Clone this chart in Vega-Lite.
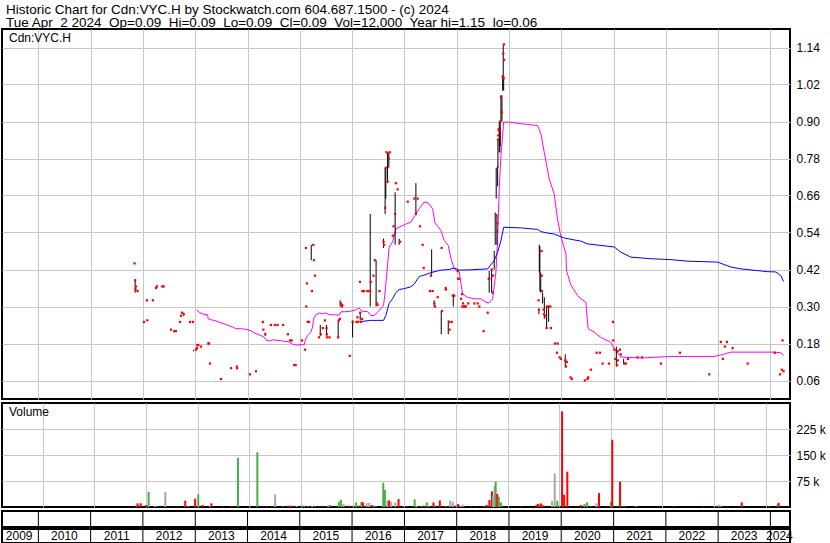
{
"$schema": "https://vega.github.io/schema/vega-lite/v6.json",
"background": "white",
"padding": {"left": 1, "top": 3, "right": 0, "bottom": 0},
"title": {"text": ["Historic Chart for Cdn:VYC.H by Stockwatch.com 604.687.1500 - (c) 2024", "Tue Apr\u00a0 2 2024\u00a0 Op=0.09\u00a0 Hi=0.09\u00a0 Lo=0.09\u00a0 Cl=0.09\u00a0 Vol=12,000\u00a0 Year hi=1.15\u00a0 lo=0.06"], "anchor": "start", "frame": "group", "fontSize": 13.5, "fontWeight": "normal", "font": "Liberation Sans", "color": "black", "lineHeight": 13.3, "offset": -2, "dx": 4},
"config": {
  "font": "Liberation Sans",
  "view": {"stroke": "black", "strokeWidth": 2},
  "axis": {"labelFont": "Liberation Sans", "labelFontSize": 12, "labelColor": "black", "gridColor": "#c8c8c8", "gridOpacity": 1, "gridWidth": 1, "ticks": false, "domain": false, "title": null, "labelOverlap": false},
  "axisX": {"minExtent": 0, "maxExtent": 0},
  "title": {"font": "Liberation Sans", "fontSize": 12, "fontWeight": "normal", "color": "black"}
},
"spacing": 2,
"resolve": {"scale": {"color": "independent", "x": "independent", "y": "independent"}},
"datasets": {
"price": [
{"d":"2011-11-04","c":0.44},
{"d":"2011-11-08","c":0.385,"h":0.385,"l":0.345},
{"d":"2011-11-11","c":0.355},
{"d":"2011-11-14","c":0.365},
{"d":"2011-11-25","c":0.35},
{"d":"2012-01-08","c":0.25},
{"d":"2012-01-29","c":0.32},
{"d":"2012-02-01","c":0.255},
{"d":"2012-03-11","c":0.32},
{"d":"2012-04-01","c":0.36},
{"d":"2012-04-08","c":0.365},
{"d":"2012-05-15","c":0.365},
{"d":"2012-05-25","c":0.365},
{"d":"2012-07-15","c":0.225},
{"d":"2012-08-07","c":0.22},
{"d":"2012-08-19","c":0.22},
{"d":"2012-09-16","c":0.25},
{"d":"2012-09-23","c":0.27},
{"d":"2012-09-30","c":0.28},
{"d":"2012-10-12","c":0.275,"h":0.28,"l":0.27},
{"d":"2012-11-25","c":0.25},
{"d":"2012-12-16","c":0.25},
{"d":"2012-12-21","h":0.16,"l":0.155},
{"d":"2013-01-06","c":0.16},
{"d":"2013-01-13","c":0.165},
{"d":"2013-01-15","c":0.175},
{"d":"2013-01-22","c":0.175},
{"d":"2013-02-10","c":0.17},
{"d":"2013-04-02","c":0.18},
{"d":"2013-04-07","c":0.18},
{"d":"2013-04-14","c":0.115},
{"d":"2013-06-30","c":0.065},
{"d":"2013-09-08","c":0.1},
{"d":"2013-10-18","c":0.105},
{"d":"2013-10-20","c":0.1},
{"d":"2014-01-18","c":0.08},
{"d":"2014-03-01","c":0.09},
{"d":"2014-04-18","c":0.25},
{"d":"2014-04-22","c":0.225},
{"d":"2014-05-05","c":0.21,"h":0.215,"l":0.205},
{"d":"2014-06-13","c":0.24},
{"d":"2014-07-11","c":0.24},
{"d":"2014-07-30","c":0.24},
{"d":"2014-09-07","c":0.24},
{"d":"2014-10-10","c":0.21},
{"d":"2014-10-26","c":0.19},
{"d":"2014-11-05","c":0.19},
{"d":"2014-11-23","c":0.11},
{"d":"2014-12-03","c":0.11},
{"d":"2015-01-16","c":0.19},
{"d":"2015-02-06","c":0.16},
{"d":"2015-02-13","c":0.49},
{"d":"2015-02-15","c":0.3},
{"d":"2015-02-20","c":0.375},
{"d":"2015-02-25","c":0.25},
{"d":"2015-03-06","c":0.25},
{"d":"2015-03-22","h":0.5,"l":0.45},
{"d":"2015-03-27","c":0.35},
{"d":"2015-04-05","c":0.5},
{"d":"2015-04-10","c":0.45},
{"d":"2015-04-17","c":0.4},
{"d":"2015-05-15","c":0.2},
{"d":"2015-05-24","h":0.24,"l":0.205},
{"d":"2015-05-28","c":0.21},
{"d":"2015-06-11","c":0.23},
{"d":"2015-06-25","c":0.255},
{"d":"2015-07-07","c":0.23,"h":0.24,"l":0.205},
{"d":"2015-07-09","c":0.21},
{"d":"2015-07-11","c":0.2},
{"d":"2015-07-28","c":0.2},
{"d":"2015-09-26","c":0.2,"h":0.255,"l":0.2},
{"d":"2015-10-01","c":0.255},
{"d":"2015-10-08","c":0.26},
{"d":"2015-10-10","h":0.32,"l":0.3},
{"d":"2015-10-15","c":0.31},
{"d":"2015-10-22","c":0.3},
{"d":"2015-10-25","c":0.305},
{"d":"2015-12-16","c":0.14},
{"d":"2016-01-05","c":0.25,"h":0.255,"l":0.2},
{"d":"2016-02-01","c":0.25},
{"d":"2016-02-08","c":0.265},
{"d":"2016-02-13","c":0.25},
{"d":"2016-02-25","c":0.38},
{"d":"2016-02-27","c":0.28,"h":0.28,"l":0.255},
{"d":"2016-03-03","c":0.25},
{"d":"2016-03-12","c":0.26},
{"d":"2016-03-14","c":0.35},
{"d":"2016-03-17","c":0.35},
{"d":"2016-03-24","c":0.35},
{"d":"2016-04-18","c":0.35},
{"d":"2016-04-20","c":0.35},
{"d":"2016-05-07","c":0.35,"h":0.6,"l":0.3},
{"d":"2016-05-11","c":0.38},
{"d":"2016-05-30","c":0.4},
{"d":"2016-06-08","c":0.45},
{"d":"2016-06-17","h":0.45,"l":0.3},
{"d":"2016-06-22","c":0.31},
{"d":"2016-06-27","c":0.305},
{"d":"2016-07-11","c":0.35},
{"d":"2016-08-08","c":0.51,"h":0.52,"l":0.49},
{"d":"2016-08-12","c":0.5},
{"d":"2016-08-19","c":0.62,"h":0.75,"l":0.6},
{"d":"2016-08-24","c":0.75,"h":0.75,"l":0.65},
{"d":"2016-08-29","c":0.8},
{"d":"2016-09-05","c":0.705,"h":0.8,"l":0.7},
{"d":"2016-09-14","c":0.78,"h":0.8,"l":0.75},
{"d":"2016-09-21","c":0.8},
{"d":"2016-10-12","c":0.53},
{"d":"2016-10-17","c":0.56},
{"d":"2016-10-28","c":0.6,"h":0.67,"l":0.5},
{"d":"2016-11-02","c":0.7},
{"d":"2016-11-14","c":0.68},
{"d":"2016-11-25","h":0.52,"l":0.5},
{"d":"2016-12-02","c":0.51},
{"d":"2017-01-24","c":0.64},
{"d":"2017-03-11","c":0.65},
{"d":"2017-03-22","c":0.6,"h":0.7,"l":0.6},
{"d":"2017-04-03","c":0.65},
{"d":"2017-04-19","c":0.56},
{"d":"2017-05-08","c":0.5},
{"d":"2017-05-15","c":0.425},
{"d":"2017-06-28","c":0.35},
{"d":"2017-07-05","c":0.4},
{"d":"2017-07-10","h":0.485,"l":0.4},
{"d":"2017-07-17","c":0.35},
{"d":"2017-07-28","c":0.31,"h":0.32,"l":0.3},
{"d":"2017-08-02","c":0.3},
{"d":"2017-08-21","c":0.33},
{"d":"2017-09-15","h":0.285,"l":0.21},
{"d":"2017-09-18","c":0.49},
{"d":"2017-09-20","c":0.285},
{"d":"2017-10-16","c":0.36},
{"d":"2017-10-18","c":0.355},
{"d":"2017-11-03","h":0.255,"l":0.21},
{"d":"2017-11-10","c":0.25},
{"d":"2017-11-12","c":0.225},
{"d":"2017-11-27","c":0.25},
{"d":"2017-12-04","c":0.335},
{"d":"2017-12-08","h":0.34,"l":0.3},
{"d":"2017-12-15","c":0.335},
{"d":"2018-01-08","c":0.415},
{"d":"2018-01-12","c":0.39},
{"d":"2018-01-15","c":0.39},
{"d":"2018-01-31","c":0.325},
{"d":"2018-02-07","c":0.34},
{"d":"2018-02-09","c":0.3},
{"d":"2018-02-14","c":0.31},
{"d":"2018-02-22","c":0.3},
{"d":"2018-02-25","c":0.3},
{"d":"2018-03-06","c":0.3},
{"d":"2018-03-23","c":0.31},
{"d":"2018-05-04","c":0.31},
{"d":"2018-05-28","c":0.31},
{"d":"2018-06-08","c":0.3},
{"d":"2018-07-08","c":0.22},
{"d":"2018-08-05","c":0.28},
{"d":"2018-08-13","c":0.39},
{"d":"2018-08-16","c":0.39,"h":0.415,"l":0.345},
{"d":"2018-09-02","c":0.42,"h":0.42,"l":0.345},
{"d":"2018-09-09","c":0.345},
{"d":"2018-09-11","c":0.4},
{"d":"2018-09-20","h":0.48,"l":0.42},
{"d":"2018-09-27","h":0.605,"l":0.5},
{"d":"2018-10-02","c":0.595},
{"d":"2018-10-04","h":0.75,"l":0.65},
{"d":"2018-10-09","c":0.545,"h":0.6,"l":0.5},
{"d":"2018-10-12","c":0.57},
{"d":"2018-10-14","h":0.755,"l":0.69},
{"d":"2018-10-16","c":0.84,"h":0.845,"l":0.75},
{"d":"2018-10-18","c":0.855},
{"d":"2018-10-21","c":0.875},
{"d":"2018-10-23","c":0.87},
{"d":"2018-10-25","h":0.9,"l":0.8},
{"d":"2018-10-29","h":0.88,"l":0.8},
{"d":"2018-11-01","c":0.9,"h":0.9,"l":0.82},
{"d":"2018-11-06","c":0.98,"h":0.985,"l":0.9},
{"d":"2018-11-13","c":0.93,"h":0.985,"l":0.9},
{"d":"2018-11-18","c":1.045,"h":1.05,"l":1.0},
{"d":"2018-11-22","c":1.12,"h":1.15,"l":1.05},
{"d":"2018-11-25","c":1.04,"h":1.05,"l":1.0},
{"d":"2018-11-27","c":1.15},
{"d":"2018-11-28","c":1.1},
{"d":"2019-07-27","c":0.32},
{"d":"2019-07-29","c":0.29,"h":0.29,"l":0.275},
{"d":"2019-08-01","h":0.5,"l":0.41},
{"d":"2019-08-05","h":0.495,"l":0.35},
{"d":"2019-08-11","h":0.41,"l":0.345},
{"d":"2019-08-17","c":0.48},
{"d":"2019-08-18","c":0.4},
{"d":"2019-08-20","c":0.35},
{"d":"2019-08-24","h":0.345,"l":0.31},
{"d":"2019-08-31","c":0.29},
{"d":"2019-09-02","c":0.275},
{"d":"2019-09-05","h":0.33,"l":0.26},
{"d":"2019-09-12","c":0.27},
{"d":"2019-09-21","c":0.23,"h":0.3,"l":0.23},
{"d":"2019-09-23","c":0.3},
{"d":"2019-10-05","c":0.3,"h":0.3,"l":0.25},
{"d":"2019-10-17","c":0.3},
{"d":"2019-10-21","c":0.23},
{"d":"2019-11-18","c":0.18},
{"d":"2019-12-02","c":0.15},
{"d":"2019-12-07","c":0.18},
{"d":"2019-12-21","c":0.135},
{"d":"2019-12-30","c":0.13},
{"d":"2020-01-29","c":0.125,"h":0.145,"l":0.105},
{"d":"2020-02-03","c":0.105},
{"d":"2020-02-09","c":0.12},
{"d":"2020-03-06","c":0.07},
{"d":"2020-03-15","c":0.065},
{"d":"2020-06-14","c":0.06},
{"d":"2020-07-03","c":0.065},
{"d":"2020-07-07","c":0.07},
{"d":"2020-07-26","c":0.095},
{"d":"2020-09-04","c":0.15},
{"d":"2020-09-27","c":0.15},
{"d":"2020-10-16","c":0.115},
{"d":"2020-11-29","c":0.115},
{"d":"2020-12-27","c":0.25},
{"d":"2020-12-29","c":0.19},
{"d":"2021-01-06","c":0.16},
{"d":"2021-01-13","c":0.13},
{"d":"2021-01-20","h":0.17,"l":0.105},
{"d":"2021-01-25","c":0.11},
{"d":"2021-01-29","c":0.155},
{"d":"2021-01-30","c":0.125},
{"d":"2021-02-14","c":0.16},
{"d":"2021-02-21","c":0.145},
{"d":"2021-03-12","h":0.13,"l":0.115},
{"d":"2021-03-16","c":0.115},
{"d":"2021-03-28","c":0.115},
{"d":"2021-04-11","c":0.13},
{"d":"2021-06-18","c":0.135},
{"d":"2021-07-18","c":0.135},
{"d":"2021-11-28","c":0.115},
{"d":"2022-04-09","c":0.15},
{"d":"2022-10-31","c":0.08},
{"d":"2023-01-20","c":0.185},
{"d":"2023-02-03","c":0.13},
{"d":"2023-02-17","c":0.17},
{"d":"2023-03-03","c":0.185},
{"d":"2023-04-12","c":0.165},
{"d":"2023-07-26","c":0.115},
{"d":"2024-02-01","c":0.15},
{"d":"2024-03-09","c":0.08},
{"d":"2024-03-21","c":0.095},
{"d":"2024-03-26","c":0.19},
{"d":"2024-04-02","c":0.09}
],
"ma": [
{"d":"2013-01-13","s":"m","v":0.29},{"d":"2013-01-31","s":"m","v":0.28},{"d":"2013-02-28","s":"m","v":0.275},{"d":"2013-03-28","s":"m","v":0.273},{"d":"2013-04-01","s":"m","v":0.26},{"d":"2013-04-20","s":"m","v":0.257},{"d":"2013-05-20","s":"m","v":0.254},{"d":"2013-06-17","s":"m","v":0.249},{"d":"2013-07-10","s":"m","v":0.246},{"d":"2013-08-03","s":"m","v":0.242},{"d":"2013-08-26","s":"m","v":0.237},{"d":"2013-09-18","s":"m","v":0.234},{"d":"2013-10-11","s":"m","v":0.228},{"d":"2013-11-15","s":"m","v":0.228},{"d":"2013-12-22","s":"m","v":0.226},{"d":"2014-01-25","s":"m","v":0.221},{"d":"2014-03-01","s":"m","v":0.212},{"d":"2014-04-05","s":"m","v":0.206},{"d":"2014-04-28","s":"m","v":0.2},{"d":"2014-05-09","s":"m","v":0.192},{"d":"2014-06-01","s":"m","v":0.188},{"d":"2014-06-29","s":"m","v":0.192},{"d":"2014-09-03","s":"m","v":0.188},{"d":"2014-10-19","s":"m","v":0.185},{"d":"2014-11-12","s":"m","v":0.178},{"d":"2014-12-05","s":"m","v":0.175},{"d":"2015-01-09","s":"m","v":0.176},{"d":"2015-02-01","s":"m","v":0.176},{"d":"2015-02-08","s":"m","v":0.19},{"d":"2015-02-24","s":"m","v":0.206},{"d":"2015-03-19","s":"m","v":0.217},{"d":"2015-03-31","s":"m","v":0.233},{"d":"2015-04-07","s":"m","v":0.26},{"d":"2015-04-23","s":"m","v":0.273},{"d":"2015-05-16","s":"m","v":0.279},{"d":"2015-06-09","s":"m","v":0.276},{"d":"2015-07-02","s":"m","v":0.279},{"d":"2015-07-25","s":"m","v":0.274},{"d":"2015-08-29","s":"m","v":0.273},{"d":"2015-10-03","s":"m","v":0.272},{"d":"2015-10-15","s":"m","v":0.283},{"d":"2015-11-19","s":"m","v":0.283},{"d":"2015-12-24","s":"m","v":0.285},{"d":"2016-01-28","s":"m","v":0.289},{"d":"2016-02-20","s":"m","v":0.295},{"d":"2016-03-14","s":"m","v":0.284},{"d":"2016-04-18","s":"m","v":0.284},{"d":"2016-05-11","s":"m","v":0.271},{"d":"2016-06-04","s":"m","v":0.271},{"d":"2016-07-08","s":"m","v":0.287},{"d":"2016-08-08","s":"m","v":0.303},{"d":"2016-08-19","s":"m","v":0.347},{"d":"2016-09-05","s":"m","v":0.433},{"d":"2016-09-16","s":"m","v":0.493},{"d":"2016-10-10","s":"m","v":0.509},{"d":"2016-11-02","s":"m","v":0.552},{"d":"2016-12-31","s":"m","v":0.565},{"d":"2017-02-15","s":"m","v":0.574},{"d":"2017-03-15","s":"m","v":0.595},{"d":"2017-04-14","s":"m","v":0.617},{"d":"2017-05-19","s":"m","v":0.639},{"d":"2017-06-16","s":"m","v":0.636},{"d":"2017-07-17","s":"m","v":0.617},{"d":"2017-08-02","s":"m","v":0.571},{"d":"2017-09-13","s":"m","v":0.547},{"d":"2017-10-06","s":"m","v":0.514},{"d":"2017-11-03","s":"m","v":0.498},{"d":"2017-11-22","s":"m","v":0.455},{"d":"2017-12-15","s":"m","v":0.422},{"d":"2018-01-19","s":"m","v":0.412},{"d":"2018-02-11","s":"m","v":0.341},{"d":"2018-03-18","s":"m","v":0.33},{"d":"2018-05-04","s":"m","v":0.325},{"d":"2018-06-19","s":"m","v":0.325},{"d":"2018-07-24","s":"m","v":0.314},{"d":"2018-08-16","s":"m","v":0.312},{"d":"2018-09-09","s":"m","v":0.325},{"d":"2018-10-02","s":"m","v":0.412},{"d":"2018-10-14","s":"m","v":0.52},{"d":"2018-10-25","s":"m","v":0.682},{"d":"2018-11-06","s":"m","v":0.79},{"d":"2018-11-25","s":"m","v":0.898},{"d":"2019-01-03","s":"m","v":0.898},{"d":"2019-03-25","s":"m","v":0.893},{"d":"2019-07-20","s":"m","v":0.887},{"d":"2019-08-12","s":"m","v":0.86},{"d":"2019-09-04","s":"m","v":0.801},{"d":"2019-10-09","s":"m","v":0.714},{"d":"2019-11-13","s":"m","v":0.665},{"d":"2019-12-06","s":"m","v":0.584},{"d":"2019-12-28","s":"m","v":0.53},{"d":"2020-02-03","s":"m","v":0.47},{"d":"2020-02-07","s":"m","v":0.417},{"d":"2020-03-08","s":"m","v":0.37},{"d":"2020-04-24","s":"m","v":0.336},{"d":"2020-05-05","s":"m","v":0.33},{"d":"2020-06-21","s":"m","v":0.314},{"d":"2020-07-07","s":"m","v":0.228},{"d":"2020-08-18","s":"m","v":0.217},{"d":"2020-10-03","s":"m","v":0.2},{"d":"2020-12-12","s":"m","v":0.184},{"d":"2021-01-06","s":"m","v":0.163},{"d":"2021-02-21","s":"m","v":0.136},{"d":"2021-07-11","s":"m","v":0.133},{"d":"2022-02-05","s":"m","v":0.138},{"d":"2022-12-04","s":"m","v":0.138},{"d":"2023-01-20","s":"m","v":0.143},{"d":"2023-03-31","s":"m","v":0.152},{"d":"2024-01-27","s":"m","v":0.152},{"d":"2024-03-14","s":"m","v":0.15},{"d":"2024-04-02","s":"m","v":0.141},
{"d":"2016-02-27","s":"b","v":0.251},{"d":"2016-05-11","s":"b","v":0.255},{"d":"2016-08-08","s":"b","v":0.255},{"d":"2016-08-24","s":"b","v":0.271},{"d":"2016-09-16","s":"b","v":0.31},{"d":"2016-10-10","s":"b","v":0.325},{"d":"2016-11-02","s":"b","v":0.345},{"d":"2016-11-25","s":"b","v":0.355},{"d":"2016-12-31","s":"b","v":0.358},{"d":"2017-02-15","s":"b","v":0.364},{"d":"2017-03-11","s":"b","v":0.373},{"d":"2017-04-03","s":"b","v":0.39},{"d":"2017-04-21","s":"b","v":0.399},{"d":"2017-05-08","s":"b","v":0.4},{"d":"2017-07-05","s":"b","v":0.41},{"d":"2017-09-13","s":"b","v":0.418},{"d":"2017-11-10","s":"b","v":0.42},{"d":"2017-12-15","s":"b","v":0.425},{"d":"2018-01-19","s":"b","v":0.418},{"d":"2018-04-11","s":"b","v":0.419},{"d":"2018-08-05","s":"b","v":0.422},{"d":"2018-09-20","s":"b","v":0.449},{"d":"2018-10-14","s":"b","v":0.476},{"d":"2018-11-06","s":"b","v":0.514},{"d":"2018-11-25","s":"b","v":0.557},{"d":"2019-03-25","s":"b","v":0.555},{"d":"2019-07-20","s":"b","v":0.55},{"d":"2019-08-12","s":"b","v":0.543},{"d":"2019-09-28","s":"b","v":0.538},{"d":"2019-11-13","s":"b","v":0.535},{"d":"2020-01-22","s":"b","v":0.522},{"d":"2020-03-08","s":"b","v":0.518},{"d":"2020-05-17","s":"b","v":0.512},{"d":"2020-07-03","s":"b","v":0.503},{"d":"2021-01-06","s":"b","v":0.493},{"d":"2021-02-21","s":"b","v":0.476},{"d":"2021-05-02","s":"b","v":0.46},{"d":"2021-09-18","s":"b","v":0.455},{"d":"2022-02-05","s":"b","v":0.452},{"d":"2022-06-02","s":"b","v":0.447},{"d":"2022-12-28","s":"b","v":0.444},{"d":"2023-03-31","s":"b","v":0.428},{"d":"2023-06-09","s":"b","v":0.422},{"d":"2023-12-12","s":"b","v":0.413},{"d":"2024-02-08","s":"b","v":0.412},{"d":"2024-03-14","s":"b","v":0.4},{"d":"2024-04-02","s":"b","v":0.381}
],
"vol": [
{"d":"2011-10-25","v":5800,"t":"u"},{"d":"2011-11-02","v":10600,"t":"d"},{"d":"2011-11-24","v":10600,"t":"d"},{"d":"2012-01-01","v":5800,"t":"d"},{"d":"2012-01-19","v":44000,"t":"u"},{"d":"2012-03-03","v":3800,"t":"n"},{"d":"2012-03-21","v":1500,"t":"u"},{"d":"2012-05-16","v":44000,"t":"n"},{"d":"2012-06-29","v":1500,"t":"d"},{"d":"2012-07-29","v":1500,"t":"d"},{"d":"2012-08-16","v":1500,"t":"d"},{"d":"2012-10-04","v":18000,"t":"d"},{"d":"2012-10-26","v":2000,"t":"u"},{"d":"2012-12-13","v":24000,"t":"d"},
{"d":"2013-01-04","v":36500,"t":"u"},{"d":"2013-02-03","v":5800,"t":"d"},{"d":"2013-03-27","v":2000,"t":"n"},{"d":"2013-04-07","v":10600,"t":"d"},{"d":"2013-06-27","v":1500,"t":"d"},{"d":"2013-08-29","v":1500,"t":"u"},{"d":"2013-10-12","v":142000,"t":"u"},
{"d":"2014-01-09","v":1500,"t":"d"},{"d":"2014-02-26","v":158000,"t":"u"},{"d":"2014-04-11","v":1500,"t":"d"},{"d":"2014-05-04","v":1500,"t":"d"},{"d":"2014-06-10","v":1000,"t":"n"},{"d":"2014-07-02","v":36500,"t":"n"},{"d":"2014-08-27","v":1500,"t":"n"},{"d":"2014-10-03","v":3800,"t":"d"},{"d":"2014-10-21","v":3800,"t":"d"},{"d":"2014-11-09","v":1500,"t":"d"},{"d":"2014-12-01","v":3800,"t":"n"},
{"d":"2015-01-06","v":3800,"t":"u"},{"d":"2015-01-25","v":3800,"t":"u"},{"d":"2015-02-20","v":2900,"t":"d"},{"d":"2015-03-21","v":3800,"t":"n"},{"d":"2015-04-09","v":1500,"t":"u"},{"d":"2015-05-12","v":1500,"t":"d"},{"d":"2015-05-30","v":1000,"t":"u"},{"d":"2015-06-25","v":1000,"t":"n"},{"d":"2015-07-13","v":4800,"t":"n"},{"d":"2015-07-25","v":4800,"t":"d"},{"d":"2015-09-25","v":15000,"t":"u"},{"d":"2015-10-10","v":21000,"t":"u"},{"d":"2015-10-29","v":8700,"t":"n"},{"d":"2015-12-01","v":3800,"t":"d"},{"d":"2015-12-20","v":1500,"t":"d"},
{"d":"2016-01-07","v":3800,"t":"u"},{"d":"2016-01-26","v":13500,"t":"u"},{"d":"2016-02-13","v":3800,"t":"d"},{"d":"2016-03-03","v":15000,"t":"u"},{"d":"2016-03-14","v":13500,"t":"d"},{"d":"2016-04-09","v":11500,"t":"n"},{"d":"2016-04-27","v":11500,"t":"n"},{"d":"2016-05-16","v":5800,"t":"d"},{"d":"2016-06-03","v":3800,"t":"u"},{"d":"2016-06-18","v":1500,"t":"u"},{"d":"2016-07-21","v":1000,"t":"d"},{"d":"2016-08-05","v":70000,"t":"u"},{"d":"2016-08-16","v":49000,"t":"u"},{"d":"2016-09-04","v":19000,"t":"n"},{"d":"2016-09-15","v":19000,"t":"d"},{"d":"2016-09-30","v":15000,"t":"n"},{"d":"2016-10-29","v":13500,"t":"n"},{"d":"2016-11-21","v":23000,"t":"d"},{"d":"2016-12-24","v":1000,"t":"n"},
{"d":"2017-01-19","v":800,"t":"n"},{"d":"2017-03-15","v":22000,"t":"u"},{"d":"2017-03-30","v":3800,"t":"n"},{"d":"2017-05-02","v":2000,"t":"n"},{"d":"2017-05-21","v":3800,"t":"d"},{"d":"2017-06-09","v":13500,"t":"u"},{"d":"2017-06-27","v":3800,"t":"u"},{"d":"2017-07-26","v":13500,"t":"d"},{"d":"2017-08-03","v":5800,"t":"u"},{"d":"2017-09-09","v":19000,"t":"d"},{"d":"2017-10-05","v":1500,"t":"d"},{"d":"2017-10-23","v":2000,"t":"u"},{"d":"2017-11-22","v":18000,"t":"n"},{"d":"2017-12-10","v":15000,"t":"n"},{"d":"2017-12-29","v":3800,"t":"d"},
{"d":"2018-01-16","v":8700,"t":"d"},{"d":"2018-02-04","v":3800,"t":"n"},{"d":"2018-02-22","v":6700,"t":"n"},{"d":"2018-04-19","v":1500,"t":"d"},{"d":"2018-05-25","v":1000,"t":"d"},{"d":"2018-07-20","v":1500,"t":"u"},{"d":"2018-08-07","v":5800,"t":"d"},{"d":"2018-08-26","v":20000,"t":"d"},{"d":"2018-09-13","v":45000,"t":"d"},{"d":"2018-09-21","v":33000,"t":"n"},{"d":"2018-10-02","v":61500,"t":"n"},{"d":"2018-10-09","v":73000,"t":"u"},{"d":"2018-10-20","v":37500,"t":"d"},{"d":"2018-10-31","v":30000,"t":"u"},{"d":"2018-11-15","v":13500,"t":"u"},
{"d":"2019-04-04","v":1500,"t":"d"},{"d":"2019-07-24","v":5800,"t":"d"},{"d":"2019-08-04","v":8700,"t":"d"},{"d":"2019-08-23","v":10600,"t":"d"},{"d":"2019-09-03","v":6700,"t":"d"},{"d":"2019-09-18","v":1500,"t":"d"},{"d":"2019-11-12","v":18000,"t":"n"},{"d":"2019-12-01","v":97000,"t":"n"},{"d":"2019-12-19","v":18000,"t":"u"},
{"d":"2020-01-06","v":1500,"t":"d"},{"d":"2020-01-22","v":276000,"t":"d"},{"d":"2020-02-05","v":35600,"t":"d"},{"d":"2020-02-28","v":102000,"t":"d"},{"d":"2020-03-20","v":1000,"t":"d"},{"d":"2020-06-02","v":5800,"t":"d"},{"d":"2020-06-28","v":8700,"t":"u"},{"d":"2020-07-17","v":13500,"t":"u"},{"d":"2020-08-15","v":1500,"t":"u"},{"d":"2020-09-21","v":10600,"t":"n"},{"d":"2020-10-09","v":40000,"t":"d"},{"d":"2020-12-04","v":1500,"t":"d"},
{"d":"2021-01-01","v":15000,"t":"u"},{"d":"2021-01-11","v":194000,"t":"d"},{"d":"2021-01-18","v":1000,"t":"d"},{"d":"2021-02-17","v":1000,"t":"d"},{"d":"2021-03-07","v":73000,"t":"d"},{"d":"2021-03-26","v":1500,"t":"u"},{"d":"2021-04-13","v":1500,"t":"u"},{"d":"2021-06-26","v":2000,"t":"n"},{"d":"2021-11-21","v":800,"t":"d"},
{"d":"2022-03-31","v":1000,"t":"u"},{"d":"2022-10-19","v":1500,"t":"d"},
{"d":"2023-01-09","v":1000,"t":"u"},{"d":"2023-01-25","v":2500,"t":"d"},{"d":"2023-02-05","v":5000,"t":"u"},{"d":"2023-02-20","v":3800,"t":"u"},{"d":"2023-04-11","v":1500,"t":"d"},{"d":"2023-07-16","v":13500,"t":"d"},
{"d":"2024-01-25","v":1500,"t":"u"},{"d":"2024-03-02","v":1000,"t":"d"},{"d":"2024-03-26","v":8000,"t":"u"},{"d":"2024-04-02","v":12000,"t":"d"}
],
"years": [
{"year":"2009","d":"2009-08-20"},{"year":"2010","d":"2010-07-02"},{"year":"2011","d":"2011-07-02"},{"year":"2012","d":"2012-07-02"},{"year":"2013","d":"2013-07-02"},{"year":"2014","d":"2014-07-02"},{"year":"2015","d":"2015-07-02"},{"year":"2016","d":"2016-07-02"},{"year":"2017","d":"2017-07-02"},{"year":"2018","d":"2018-07-02"},{"year":"2019","d":"2019-07-02"},{"year":"2020","d":"2020-07-02"},{"year":"2021","d":"2021-07-02"},{"year":"2022","d":"2022-07-02"},{"year":"2023","d":"2023-07-02"},{"year":"2024","d":"2024-03-04"}
]
},
"vconcat": [
{
  "width": 788, "height": 370,
  "title": {"text": "Cdn:VYC.H", "anchor": "start", "frame": "group", "offset": -16, "dx": 7},
  "layer": [
    {"data": {"name": "ma"}, "mark": {"type": "line", "strokeWidth": 1, "clip": true},
     "encoding": {
       "x": {"field": "d", "type": "temporal", "scale": {"domain": [{"year": 2009, "month": 4, "date": 22}, {"year": 2024, "month": 5, "date": 17}], "nice": false}, "axis": {"grid": true, "labels": false, "ticks": false, "domain": false, "tickCount": {"interval": "year", "step": 1}, "title": null}},
       "y": {"field": "v", "type": "quantitative", "scale": {"domain": [0, 1.2], "nice": false, "zero": false}, "axis": {"orient": "right", "values": [0.06,0.12,0.18,0.24,0.3,0.36,0.42,0.48,0.54,0.6,0.66,0.72,0.78,0.84,0.9,0.96,1.02,1.08,1.14], "format": ".2f", "grid": true, "labelPadding": 6, "title": null}},
       "color": {"field": "s", "type": "nominal", "scale": {"domain": ["m", "b"], "range": ["#ff00ff", "#0000ff"]}, "legend": null}
     }},
    {"data": {"name": "price"}, "transform": [{"filter": "datum.h != null"}], "mark": {"type": "rule", "color": "black", "strokeWidth": 1},
     "encoding": {"x": {"field": "d", "type": "temporal"}, "y": {"field": "l", "type": "quantitative"}, "y2": {"field": "h"}}},
    {"data": {"name": "price"}, "transform": [{"filter": "datum.c != null"}], "mark": {"type": "square", "color": "#ff0000", "size": 5, "opacity": 1, "filled": true},
     "encoding": {"x": {"field": "d", "type": "temporal"}, "y": {"field": "c", "type": "quantitative"}}}
  ]
},
{
  "width": 788, "height": 104,
  "title": {"text": "Volume", "anchor": "start", "frame": "group", "offset": -16, "dx": 7},
  "data": {"name": "vol"},
  "mark": {"type": "bar", "width": 2},
  "encoding": {
    "x": {"field": "d", "type": "temporal", "scale": {"domain": [{"year": 2009, "month": 4, "date": 22}, {"year": 2024, "month": 5, "date": 17}], "nice": false}, "axis": {"grid": true, "labels": false, "ticks": false, "domain": false, "tickCount": {"interval": "year", "step": 1}, "title": null}},
    "y": {"field": "v", "type": "quantitative", "scale": {"domain": [0, 300000], "nice": false}, "axis": {"orient": "right", "values": [75000, 150000, 225000], "labelExpr": "format(datum.value/1000, 'd') + ' k'", "grid": true, "labelPadding": 6, "title": null}},
    "color": {"field": "t", "type": "nominal", "scale": {"domain": ["u", "d", "n"], "range": ["#44b044", "#ff0000", "#a8a8a8"]}, "legend": null}
  }
},
{
  "spacing": 0,
  "vconcat": [
    {
      "width": 788, "height": 16,
      "data": {"name": "years"},
      "mark": {"type": "rule", "color": "black", "strokeWidth": 1, "clip": true},
      "encoding": {"x": {"field": "d", "timeUnit": "year", "type": "temporal", "scale": {"domain": [{"year": 2009, "month": 4, "date": 22}, {"year": 2024, "month": 5, "date": 17}], "nice": false}, "axis": null}}
    },
    {
      "width": 788, "height": 14,
      "data": {"name": "years"},
      "layer": [
        {"mark": {"type": "rule", "color": "black", "strokeWidth": 1, "clip": true},
         "encoding": {"x": {"field": "d", "timeUnit": "year", "type": "temporal", "scale": {"domain": [{"year": 2009, "month": 4, "date": 22}, {"year": 2024, "month": 5, "date": 17}], "nice": false}, "axis": null}}},
        {"mark": {"type": "text", "fontSize": 12, "font": "Liberation Sans", "color": "black", "baseline": "middle", "align": "center"},
         "encoding": {"x": {"field": "d", "type": "temporal", "scale": {"domain": [{"year": 2009, "month": 4, "date": 22}, {"year": 2024, "month": 5, "date": 17}], "nice": false}, "axis": null}, "text": {"field": "year"}}}
      ]
    }
  ]
}
]
}
